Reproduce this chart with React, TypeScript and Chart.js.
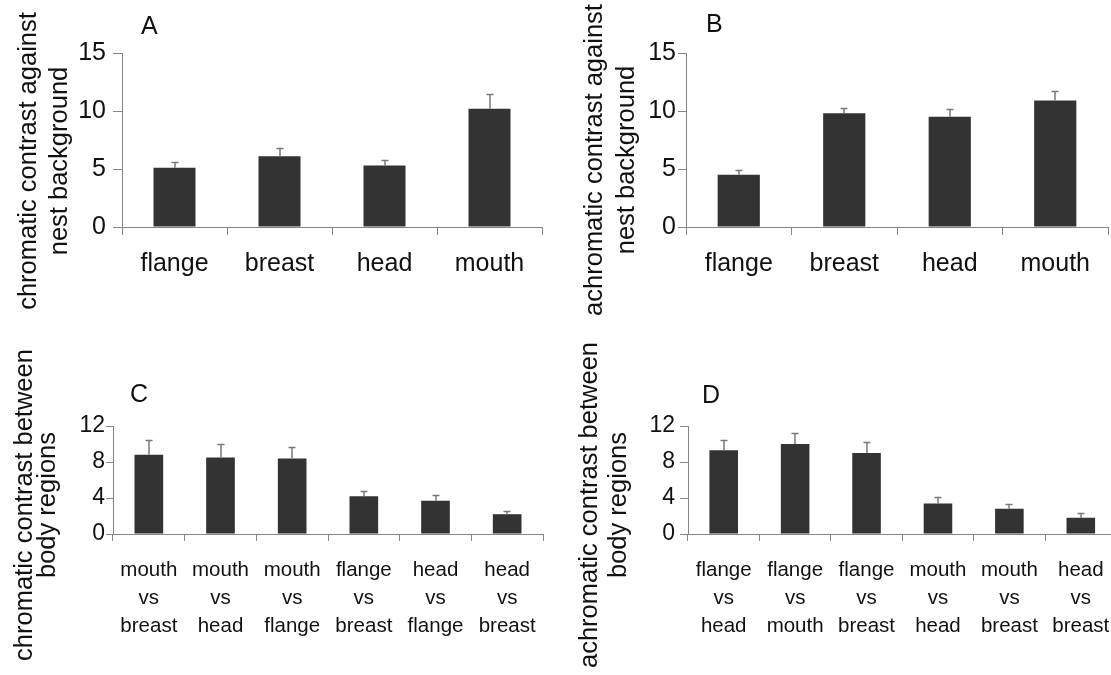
import React, { useEffect, useRef } from 'react';
import { Chart, registerables } from 'chart.js';

Chart.register(...registerables);

const FONT = "'Liberation Sans', Arial, Helvetica, sans-serif";

// ---------- data ----------
const bodyParts = ['flange', 'breast', 'head', 'mouth'];
const chromaticBgMean = [5.1, 6.1, 5.3, 10.2];
const chromaticBgSE = [0.5, 0.7, 0.5, 1.3];
const achromaticBgMean = [4.5, 9.8, 9.5, 10.9];
const achromaticBgSE = [0.4, 0.5, 0.7, 0.8];
const bgTicks = [0, 5, 10, 15];

const chromaticPairs = [
  ['mouth', 'vs', 'breast'],
  ['mouth', 'vs', 'head'],
  ['mouth', 'vs', 'flange'],
  ['flange', 'vs', 'breast'],
  ['head', 'vs', 'flange'],
  ['head', 'vs', 'breast'],
];
const chromaticPairMean = [8.8, 8.5, 8.4, 4.2, 3.7, 2.2];
const chromaticPairSE = [1.7, 1.5, 1.3, 0.6, 0.6, 0.4];

const achromaticPairs = [
  ['flange', 'vs', 'head'],
  ['flange', 'vs', 'mouth'],
  ['flange', 'vs', 'breast'],
  ['mouth', 'vs', 'head'],
  ['mouth', 'vs', 'breast'],
  ['head', 'vs', 'breast'],
];
const achromaticPairMean = [9.3, 10.0, 9.0, 3.4, 2.8, 1.8];
const achromaticPairSE = [1.2, 1.2, 1.2, 0.7, 0.5, 0.5];
const pairTicks = [0, 4, 8, 12];

const titleA = ['chromatic contrast against', 'nest background'];
const titleB = ['achromatic contrast against', 'nest background'];
const titleC = ['chromatic contrast between', 'body regions'];
const titleD = ['achromatic contrast between', 'body regions'];

// ---------- styling / layout ----------
const BAR = '#333333';
const AXIS = '#858585';
const ERR = '#7a7a7a';
const TEXT = '#111111';

interface Panel {
  letter: string;
  letterLeft: number;
  letterTop: number;
  left: number;
  top: number;
  width: number;
  height: number;
  pad: { left: number; top: number; right: number; bottom: number };
  topSpace: number;
  title: string[];
  titleLH: number;
  titlePadTop: number;
  yWidth: number;
  xHeight: number;
  yTicks: number[];
  yTickLen: number;
  yTickPad: number;
  yFont: number;
  xTickLen: number;
  xTickPad: number;
  xFont: number;
  xLH: number;
  labels: (string | string[])[];
  values: number[];
  se: number[];
}

const panels: Panel[] = [
  {
    letter: 'A', letterLeft: 141, letterTop: 12.5,
    left: 0, top: 0, width: 560, height: 330,
    pad: { left: 5, top: 2, right: 18, bottom: 10 },
    topSpace: 51,
    title: titleA, titleLH: 31, titlePadTop: 8.5,
    yWidth: 46.5, xHeight: 93,
    yTicks: bgTicks, yTickLen: 9, yTickPad: 7, yFont: 25,
    xTickLen: 8, xTickPad: 15, xFont: 25, xLH: 29,
    labels: bodyParts, values: chromaticBgMean, se: chromaticBgSE,
  },
  {
    letter: 'B', letterLeft: 706, letterTop: 11,
    left: 555, top: 0, width: 560, height: 330,
    pad: { left: 5, top: 2, right: 7, bottom: 12 },
    topSpace: 51,
    title: titleB, titleLH: 32, titlePadTop: 19,
    yWidth: 43, xHeight: 91,
    yTicks: bgTicks, yTickLen: 8, yTickPad: 2, yFont: 25,
    xTickLen: 8, xTickPad: 15, xFont: 25, xLH: 29,
    labels: bodyParts, values: achromaticBgMean, se: achromaticBgSE,
  },
  {
    letter: 'C', letterLeft: 130, letterTop: 381,
    left: 0, top: 335, width: 560, height: 340,
    pad: { left: 4, top: 12, right: 17, bottom: 12 },
    topSpace: 79,
    title: titleC, titleLH: 23, titlePadTop: 9.5,
    yWidth: 53.5, xHeight: 129,
    yTicks: pairTicks, yTickLen: 7, yTickPad: 1, yFont: 23,
    xTickLen: 7, xTickPad: 15, xFont: 20.5, xLH: 28,
    labels: chromaticPairs, values: chromaticPairMean, se: chromaticPairSE,
  },
  {
    letter: 'D', letterLeft: 702, letterTop: 382,
    left: 555, top: 335, width: 570, height: 340,
    pad: { left: 5, top: 6, right: 7, bottom: 6 },
    topSpace: 85,
    title: titleD, titleLH: 29, titlePadTop: 15.5,
    yWidth: 54.5, xHeight: 135,
    yTicks: pairTicks, yTickLen: 8, yTickPad: 5, yFont: 23,
    xTickLen: 7, xTickPad: 15, xFont: 20.5, xLH: 28,
    labels: achromaticPairs, values: achromaticPairMean, se: achromaticPairSE,
  },
];

function errorBarPlugin(se: number[]) {
  return {
    id: 'errorBars',
    afterDatasetsDraw(chart: any) {
      const meta = chart.getDatasetMeta(0);
      const yScale = chart.scales.y;
      const values = chart.data.datasets[0].data as number[];
      const ctx = chart.ctx as CanvasRenderingContext2D;
      ctx.save();
      ctx.strokeStyle = ERR;
      ctx.lineWidth = 1.5;
      meta.data.forEach((bar: any, i: number) => {
        const x = Math.round(bar.x);
        const yBase = yScale.getPixelForValue(values[i]);
        const yTop = Math.round(yScale.getPixelForValue(values[i] + se[i])) + 0.5;
        ctx.beginPath();
        ctx.moveTo(x, yBase);
        ctx.lineTo(x, yTop);
        ctx.moveTo(x - 3.5, yTop);
        ctx.lineTo(x + 3.5, yTop);
        ctx.stroke();
      });
      ctx.restore();
    },
  };
}

function PanelChart({ p }: { p: Panel }) {
  const ref = useRef<HTMLCanvasElement | null>(null);
  useEffect(() => {
    if (!ref.current) return;
    const chart = new Chart(ref.current, {
      type: 'bar',
      data: {
        labels: p.labels as any,
        datasets: [
          {
            data: p.values,
            backgroundColor: BAR,
            borderWidth: 0,
            barPercentage: 0.4,
            categoryPercentage: 1,
          },
        ],
      },
      options: {
        animation: false,
        responsive: false,
        devicePixelRatio: 1,
        events: [],
        layout: { padding: p.pad },
        plugins: {
          legend: { display: false },
          tooltip: { enabled: false },
          title: {
            display: true,
            position: 'left',
            align: 'center',
            text: p.title,
            color: TEXT,
            font: { family: FONT, size: 25.5, weight: 'normal', lineHeight: p.titleLH + 'px' },
            padding: { top: p.titlePadTop, bottom: 0 },
          },
          // empty spacer above the plot area (panel letter is drawn separately)
          subtitle: {
            display: true,
            position: 'top',
            fullSize: false,
            text: '',
            font: { family: FONT, size: 10, lineHeight: '10px' },
            padding: { top: p.topSpace - 10, bottom: 0 },
          },
        },
        scales: {
          x: {
            offset: true,
            ticks: {
              color: TEXT,
              font: { family: FONT, size: p.xFont, lineHeight: p.xLH + 'px' },
              padding: p.xTickPad,
              maxRotation: 0,
              minRotation: 0,
              autoSkip: false,
            },
            grid: {
              offset: true,
              drawOnChartArea: false,
              drawTicks: true,
              tickLength: p.xTickLen,
              color: AXIS,
              lineWidth: 1,
            },
            border: { display: true, color: AXIS, width: 1 },
            afterFit: (s: any) => {
              s.height = p.xHeight;
            },
          },
          y: {
            min: p.yTicks[0],
            max: p.yTicks[p.yTicks.length - 1],
            afterBuildTicks: (s: any) => {
              s.ticks = p.yTicks.map((v) => ({ value: v }));
            },
            ticks: {
              color: TEXT,
              font: { family: FONT, size: p.yFont },
              padding: p.yTickPad,
            },
            grid: {
              drawOnChartArea: false,
              drawTicks: true,
              tickLength: p.yTickLen,
              color: AXIS,
              lineWidth: 1,
            },
            border: { display: true, color: AXIS, width: 1 },
            afterFit: (s: any) => {
              s.width = p.yWidth;
            },
          },
        },
      } as any,
      plugins: [errorBarPlugin(p.se)],
    });
    return () => chart.destroy();
  }, [p]);

  return (
    <canvas
      ref={ref}
      width={p.width}
      height={p.height}
      style={{
        position: 'absolute',
        left: p.left,
        top: p.top,
        width: p.width,
        height: p.height,
      }}
    />
  );
}

export default function App() {
  return (
    <div
      style={{
        position: 'absolute',
        left: 0,
        top: 0,
        width: 1111,
        height: 675,
        overflow: 'hidden',
        background: '#ffffff',
      }}
    >
      {panels.map((p) => (
        <PanelChart key={p.letter} p={p} />
      ))}
      {panels.map((p) => (
        <div
          key={'l' + p.letter}
          style={{
            position: 'absolute',
            left: p.letterLeft,
            top: p.letterTop,
            fontFamily: FONT,
            fontSize: 25,
            lineHeight: '25px',
            color: TEXT,
          }}
        >
          {p.letter}
        </div>
      ))}
    </div>
  );
}
